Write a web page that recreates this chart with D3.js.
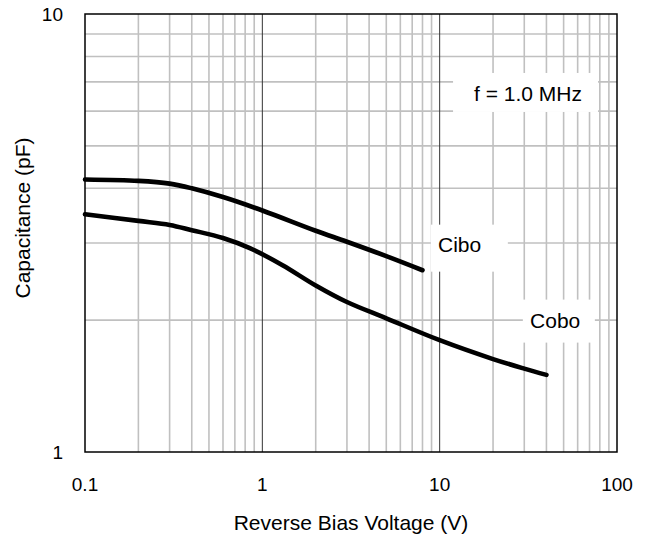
<!DOCTYPE html>
<html lang="en">
<head>
  <meta charset="UTF-8" />
  <title>Capacitance vs Reverse Bias Voltage</title>
  <script src="https://cdn.jsdelivr.net/npm/d3@7"></script>
  <style>
    body { margin: 0; background: #fff; }
    text { font-family: Arial, "Liberation Sans", sans-serif; fill: #000; }
  </style>
</head>
<body>
  <svg width="648" height="540"></svg>

  <script>
    // 数据
    const ciboVolts = [0.1, 0.2, 0.3, 0.4, 0.6, 1, 2, 3, 5, 8];
    const ciboCap = [4.19, 4.16, 4.1, 4.0, 3.82, 3.56, 3.2, 3.02, 2.8, 2.6];
    const coboVolts = [0.1, 0.2, 0.3, 0.4, 0.6, 0.85, 1.3, 2, 3, 5, 10, 20, 30, 40];
    const coboCap = [3.49, 3.37, 3.3, 3.21, 3.08, 2.92, 2.67, 2.4, 2.2, 2.02, 1.8, 1.63, 1.55, 1.5];
    const xTicks = [0.1, 1, 10, 100];
    const yTicks = [1, 10];
    // 标注: 文字位置 (tx, ty) 和白底框中心 (bx, by)，都是数据坐标
    const notes = [
      { text: 'f = 1.0 MHz', tx: 31.5, ty: 6.6, bx: 30.5, by: 6.62, w: 145, h: 39 },
      { text: 'Cibo', tx: 12.95, ty: 2.97, bx: 14.7, by: 2.92, w: 77, h: 47 },
      { text: 'Cobo', tx: 44.8, ty: 2.0, bx: 47, by: 1.99, w: 72, h: 43 },
    ];

    const svg = d3.select('svg');
    const margin = { left: 85, right: 31, top: 14, bottom: 88 };
    const width = +svg.attr('width');
    const height = +svg.attr('height');

    const x = d3.scaleLog().domain([0.1, 100]).range([margin.left, width - margin.right]);
    const y = d3.scaleLog().domain([1, 10]).range([height - margin.bottom, margin.top]);

    // 网格线
    const minorX = [];
    for (let d = 0.1; d < 100; d *= 10) {
      for (let k = 2; k <= 9; k++) minorX.push(+(d * k).toPrecision(3));
    }
    const minorY = d3.range(2, 10);

    const grid = svg.append('g');
    grid.selectAll('.gx').data(minorX).enter().append('line')
      .attr('x1', (d) => x(d)).attr('x2', (d) => x(d))
      .attr('y1', y(1)).attr('y2', y(10))
      .attr('stroke', '#c0c0c0').attr('stroke-width', 1.6);
    grid.selectAll('.gy').data(minorY).enter().append('line')
      .attr('x1', x(0.1)).attr('x2', x(100))
      .attr('y1', (d) => y(d)).attr('y2', (d) => y(d))
      .attr('stroke', '#c0c0c0').attr('stroke-width', 1.6);
    grid.selectAll('.gd').data([1, 10]).enter().append('line')
      .attr('x1', (d) => x(d)).attr('x2', (d) => x(d))
      .attr('y1', y(1)).attr('y2', y(10))
      .attr('stroke', '#333').attr('stroke-width', 1);

    // 标注
    const noteG = svg.append('g');
    noteG.selectAll('rect').data(notes).enter().append('rect')
      .attr('x', (d) => x(d.bx) - d.w / 2)
      .attr('y', (d) => y(d.by) - d.h / 2)
      .attr('width', (d) => d.w)
      .attr('height', (d) => d.h)
      .attr('fill', '#fff');
    noteG.selectAll('text').data(notes).enter().append('text')
      .attr('x', (d) => x(d.tx))
      .attr('y', (d) => y(d.ty))
      .attr('text-anchor', 'middle')
      .attr('dominant-baseline', 'central')
      .style('font-size', '21px')
      .text((d) => d.text);

    // 边框
    svg.append('rect')
      .attr('x', x(0.1)).attr('y', y(10))
      .attr('width', x(100) - x(0.1)).attr('height', y(1) - y(10))
      .attr('fill', 'none').attr('stroke', '#000').attr('stroke-width', 1.5);

    // 曲线
    const line = d3.line()
      .x((d) => x(d[0]))
      .y((d) => y(d[1]))
      .curve(d3.curveCatmullRom.alpha(0.5));
    const series = [
      d3.zip(ciboVolts, ciboCap),
      d3.zip(coboVolts, coboCap),
    ];
    svg.append('g').selectAll('path').data(series).enter().append('path')
      .attr('d', line)
      .attr('fill', 'none')
      .attr('stroke', '#000')
      .attr('stroke-width', 4.6)
      .attr('stroke-linecap', 'round')
      .attr('stroke-linejoin', 'round');

    // 坐标轴标签
    svg.append('g').selectAll('text').data(xTicks).enter().append('text')
      .attr('x', (d) => x(d))
      .attr('y', y(1) + 39)
      .attr('text-anchor', 'middle')
      .style('font-size', '19px')
      .text((d) => d);
    svg.append('g').selectAll('text').data(yTicks).enter().append('text')
      .attr('x', x(0.1) - 22)
      .attr('y', (d) => y(d))
      .attr('text-anchor', 'end')
      .attr('dominant-baseline', 'central')
      .style('font-size', '19px')
      .text((d) => d);

    svg.append('text')
      .attr('x', (x(0.1) + x(100)) / 2)
      .attr('y', 530)
      .attr('text-anchor', 'middle')
      .style('font-size', '21px')
      .text('Reverse Bias Voltage (V)');
    svg.append('text')
      .attr('transform', 'translate(30, 218) rotate(-90)')
      .attr('text-anchor', 'middle')
      .style('font-size', '21px')
      .text('Capacitance (pF)');
  </script>
</body>
</html>
